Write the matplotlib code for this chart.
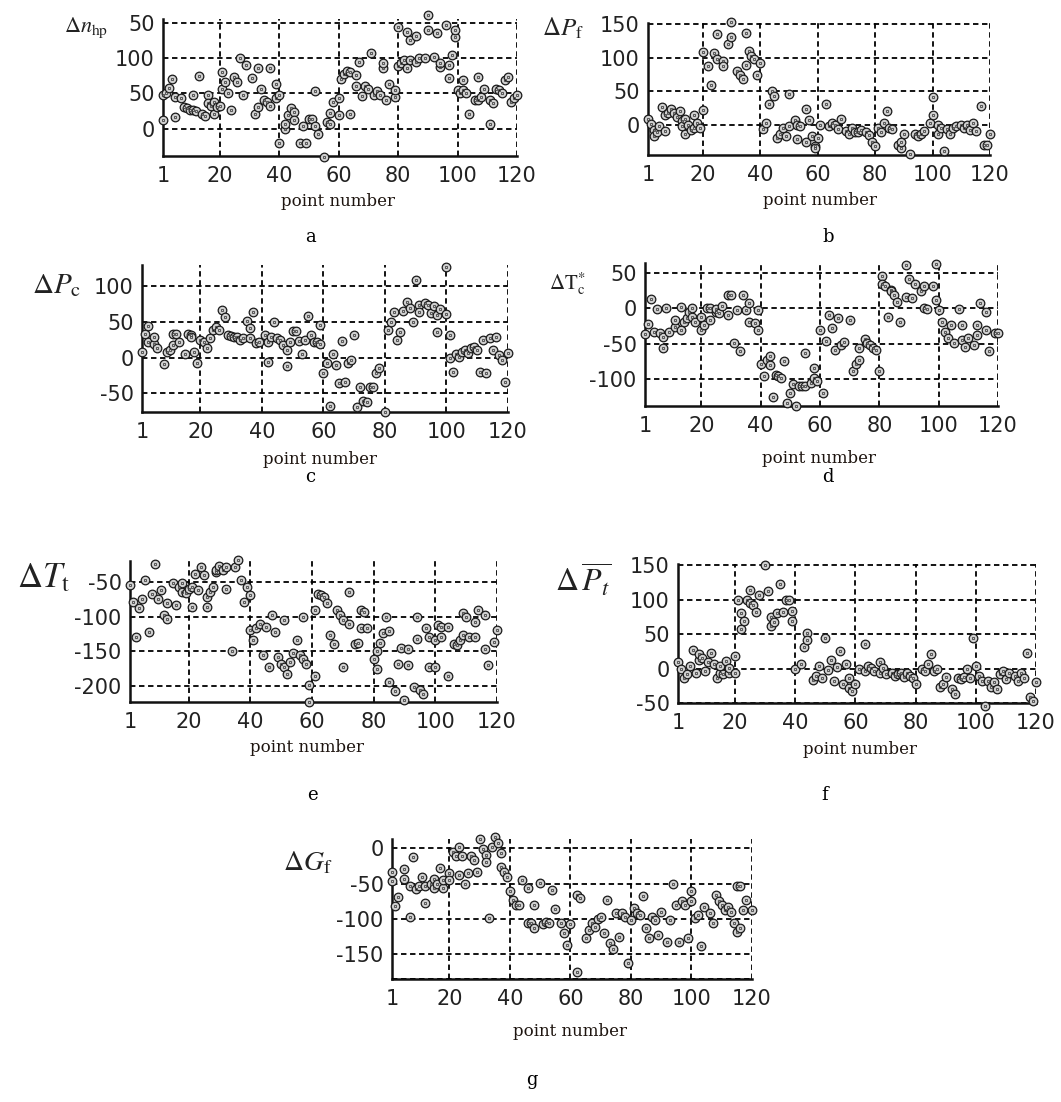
import matplotlib
matplotlib.use('Agg')
import matplotlib.pyplot as plt

W, H = 1061, 1102
plt.rcParams['mathtext.fontset'] = 'stix'
plt.rcParams['font.family'] = ['DejaVu Sans']

# ---------------- data ----------------
a_x = [1,1,2,3,4,5,5,7,8,9,10,11,11,12,13,14,15,16,16,17,18,18,19,20,21,21,22,23,24,25,26,27,28,29,31,32,33,33,34,35,36,37,37,39,39,40,40,42,42,43,44,45,45,47,48,49,50,51,52,52,53,55,56,57,57,58,60,60,61,62,63,64,64,66,66,67,68,69,70,71,72,73,74,75,75,76,77,79,79,80,80,81,82,83,83,84,84,86,86,87,89,90,90,92,93,94,94,96,97,97,98,99,99,100,101,102,102,103,104,106,107,107,108,109,111,111,112,113,114,115,116,117,118,119,120]
a_y = [12,48,50,58,71,16,45,44,31,29,27,26,48,25,75,21,18,48,36,32,21,38,31,32,80,57,67,51,26,74,67,100,48,90,72,21,31,86,56,40,38,32,86,43,64,48,-20,0,7,19,29,24,12,-21,3,-21,13,14,3,54,-7,-40,10,22,7,38,43,19,70,78,82,21,81,60,77,95,46,60,57,108,48,54,48,86,93,41,64,45,55,89,145,93,98,86,138,98,126,95,132,100,100,162,140,102,136,88,93,148,72,90,105,131,140,55,50,69,55,51,21,40,74,40,45,56,40,7,36,56,55,51,69,74,38,43,48]

b_x = [1,2,3,3,4,5,6,7,7,8,9,10,11,12,13,13,14,14,15,16,17,17,18,19,20,20,22,23,24,25,25,27,27,29,30,30,32,33,34,35,35,36,37,38,39,40,41,42,43,44,45,46,47,48,49,50,50,52,53,53,54,56,56,57,58,59,59,60,61,63,64,65,66,67,68,70,71,72,73,74,75,77,78,79,80,81,82,83,84,85,86,88,89,89,90,92,94,95,96,97,99,100,100,102,102,103,104,105,106,107,108,110,111,112,113,114,115,117,118,119,120]
b_y = [9,2,-7,-17,-11,-2,27,-9,14,18,23,18,11,21,6,-1,-14,8,0,-7,14,-4,3,-4,22,108,88,59,107,136,99,95,88,121,154,131,80,75,68,137,90,110,103,98,75,93,-6,3,31,51,43,-19,-14,-4,-16,-1,46,7,-21,0,-1,-26,23,7,-16,-31,-35,-20,0,31,-1,3,0,-6,8,-9,-14,-4,-10,-11,-7,-11,-15,-26,-31,-5,-11,3,20,-5,-6,-30,-34,-26,-14,-44,-14,-16,-14,-9,3,41,14,0,-14,-4,-39,-6,-14,-4,-1,0,-4,0,-7,3,-9,28,-30,-30,-14]

c_x = [1,2,3,3,5,5,6,8,9,10,11,11,12,13,15,16,17,17,18,19,20,21,22,23,24,25,26,27,28,29,30,31,32,33,34,35,36,36,37,38,39,41,42,42,43,44,45,46,47,48,48,49,50,51,52,53,54,55,56,57,58,59,59,60,61,62,63,64,65,66,67,68,69,70,71,72,73,74,75,76,77,78,80,81,82,83,84,85,86,87,88,89,90,91,91,93,94,95,96,97,97,98,100,100,101,101,102,103,104,105,106,107,108,109,110,111,112,113,114,115,116,117,118,119,120]
c_y = [7,33,44,22,19,28,13,-9,7,11,17,33,33,22,5,33,31,28,8,-8,24,22,13,27,39,42,38,66,57,31,30,28,28,25,27,51,27,41,63,20,22,31,21,-6,29,49,27,24,17,10,-12,22,37,37,23,5,24,58,31,21,22,45,19,-22,-7,-68,5,-11,-36,23,-34,-7,-4,31,-69,-41,-60,-62,-41,-41,-21,-15,-76,38,50,63,24,35,65,78,69,49,108,73,63,76,73,62,72,36,59,67,61,126,31,-1,-20,5,1,8,11,6,13,15,10,-20,24,-22,27,10,28,3,-4,-34,6]

d_x = [1,2,3,4,5,6,7,7,8,9,11,11,13,13,14,15,16,17,17,18,20,20,21,22,23,23,25,25,26,27,29,29,30,31,32,33,34,35,36,36,38,39,39,40,41,42,43,43,44,45,46,47,48,49,50,51,52,53,54,55,55,57,58,58,59,60,61,62,63,64,65,66,67,68,70,71,72,73,73,75,76,77,78,79,80,81,81,82,83,84,84,85,86,87,89,89,90,91,92,94,95,95,96,98,99,99,100,101,102,103,104,105,107,108,108,109,110,112,113,113,114,116,116,117,119,120]
d_y = [-37,-22,13,-34,-1,-35,-56,-41,0,-33,-27,-17,2,-30,-20,-14,-5,-12,0,-19,-31,-12,-24,0,-17,0,-5,-1,-7,3,-9,19,19,-49,-2,-61,19,-2,7,-19,-21,-2,-31,-78,-96,-73,-80,-67,-125,-94,-96,-99,-75,-134,-120,-107,-138,-110,-110,-110,-63,-106,-85,-99,-103,-31,-120,-46,-9,-28,-59,-14,-52,-47,-16,-89,-78,-73,-56,-44,-49,-52,-56,-59,-88,45,35,31,-12,26,24,19,9,-19,16,61,42,14,35,24,31,0,-1,31,12,63,-2,-19,-33,-42,-24,-49,-1,-45,-24,-54,-42,-52,-38,-24,8,-31,-5,-61,-35,-35]

e_x = [1,2,3,4,5,6,7,8,9,10,11,12,13,13,15,16,17,18,18,19,20,21,21,22,23,24,25,26,26,27,28,29,29,30,31,32,32,34,35,36,37,38,39,40,40,41,42,43,44,45,46,47,48,49,50,51,51,52,53,54,55,56,57,57,58,59,59,61,61,62,63,64,65,66,67,68,69,70,70,72,72,74,75,76,76,77,78,80,81,81,82,83,84,85,85,87,88,89,90,91,91,93,94,94,95,96,97,98,98,100,100,101,102,102,104,104,106,107,108,109,109,110,111,113,113,114,116,116,117,119,120]
e_y = [-55,-79,-129,-88,-75,-48,-122,-67,-25,-75,-62,-98,-103,-80,-51,-84,-57,-64,-52,-66,-60,-86,-57,-38,-62,-29,-40,-86,-72,-64,-57,-36,-33,-27,-33,-60,-28,-149,-29,-18,-47,-79,-57,-69,-120,-134,-116,-110,-156,-115,-173,-98,-122,-158,-168,-105,-173,-182,-165,-153,-134,-156,-161,-100,-168,-199,-223,-91,-186,-67,-69,-72,-81,-127,-140,-91,-98,-105,-173,-110,-64,-139,-138,-91,-117,-93,-116,-161,-149,-175,-138,-124,-101,-121,-194,-207,-168,-145,-220,-170,-146,-201,-100,-133,-206,-211,-116,-130,-172,-172,-134,-112,-115,-130,-185,-115,-139,-141,-134,-95,-127,-100,-129,-129,-108,-91,-146,-98,-170,-137,-120]

f_x = [1,2,3,4,5,6,7,8,8,9,10,11,12,13,14,15,15,16,17,18,18,20,20,21,22,22,23,24,25,25,26,27,28,30,31,32,32,33,34,35,36,37,38,39,39,40,42,43,44,44,46,47,48,49,50,51,52,53,54,55,56,57,58,58,59,60,61,63,63,64,65,66,68,68,69,70,72,73,74,75,76,77,78,79,80,82,83,84,85,86,87,88,89,90,92,93,94,95,96,97,98,99,100,101,102,103,104,105,106,107,108,109,110,111,113,114,115,116,117,118,119,120]
f_y = [9,-1,-13,-8,4,27,-7,13,21,16,-3,9,23,6,-13,-6,4,-8,11,-7,1,-6,19,100,57,81,69,100,114,95,92,82,107,150,113,75,62,68,81,123,82,100,100,83,69,-1,6,31,52,42,-17,-11,4,-13,45,-2,12,-18,2,26,-23,6,-14,-28,-32,-23,-1,-4,36,4,1,-3,-7,9,1,-8,-6,-11,-8,-6,-12,-6,-11,-13,-23,-1,-3,7,21,-3,-1,-27,-23,-12,-30,-37,-13,-15,-12,-1,-13,45,4,-11,-18,-54,-18,-27,-20,-30,-8,-3,-15,-7,-11,-18,-6,-14,23,-42,-47,-20]

g_x = [1,1,2,3,5,5,7,7,8,9,10,11,12,12,14,15,15,16,17,18,18,20,20,21,22,23,23,24,25,26,27,28,29,30,31,32,32,33,34,35,36,37,37,38,39,40,41,42,43,44,46,46,47,48,48,50,51,52,53,54,55,57,58,59,60,62,62,63,65,66,67,68,69,70,71,72,73,74,75,76,77,78,79,80,81,82,83,84,85,86,87,88,89,90,92,93,94,95,96,97,98,99,100,100,101,102,103,104,106,107,108,109,110,111,112,113,115,116,114,115,116,117,118,120]
g_y = [-33,-47,-82,-69,-44,-30,-97,-54,-13,-58,-53,-41,-53,-78,-50,-44,-57,-50,-28,-57,-45,-35,-45,-5,-11,-38,2,-11,-50,-35,-11,-17,-33,13,-1,-9,-19,-99,2,16,7,-7,-26,-34,-41,-61,-73,-80,-80,-45,-106,-57,-106,-80,-113,-49,-107,-104,-106,-59,-86,-106,-120,-137,-107,-66,-175,-71,-127,-116,-106,-111,-100,-97,-120,-73,-134,-142,-92,-125,-92,-97,-163,-101,-85,-92,-94,-67,-113,-127,-97,-101,-123,-90,-132,-101,-50,-80,-132,-75,-80,-127,-75,-61,-99,-94,-138,-83,-92,-106,-66,-75,-80,-87,-83,-90,-54,-54,-106,-118,-113,-87,-73,-87]

x_ticks = [1, 20, 40, 60, 80, 100, 120]
x_tick_labels = ['1', '20', '40', '60', '80', '100', '120']
a_yticks, a_ylabels = [0, 50, 100, 150], ['0', '50', '100', '50']
b_yticks, b_ylabels = [0, 50, 100, 150], ['0', '50', '100', '150']
c_yticks, c_ylabels = [-50, 0, 50, 100], ['-50', '0', '50', '100']
d_yticks, d_ylabels = [-100, -50, 0, 50], ['-100', '-50', '0', '50']
e_yticks, e_ylabels = [-200, -150, -100, -50], ['-200', '-150', '-100', '-50']
f_yticks, f_ylabels = [-50, 0, 50, 100, 150], ['-50', '0', '50', '100', '150']
g_yticks, g_ylabels = [-150, -100, -50, 0], ['-150', '-100', '-50', '0']

x_label = 'point number'
letters = ['a', 'b', 'c', 'd', 'e', 'f', 'g']
y_names = [r'$\Delta n_{\mathrm{hp}}$', r'$\Delta P_{\mathrm{f}}$', r'$\Delta P_{\mathrm{c}}$',
           r'$\Delta \mathrm{T}^{*}_{\mathrm{c}}$', r'$\Delta T_{\mathrm{t}}$',
           r'$\Delta\,\overline{P_t}$', r'$\Delta G_{\mathrm{f}}$']

# ---------------- layout (pixels) ----------------
panels = [
    # box (xl, yt, xr, yb), ylim, ylabel (x, y, size), xlabel (x, y), letter (x, y)
    dict(x=a_x, y=a_y, yt=a_yticks, yl=a_ylabels, box=(163, 19, 517, 156), ylim=(-39, 156),
         yname=(86, 28, 16), xlab=(338, 202), let=(311, 237)),
    dict(x=b_x, y=b_y, yt=b_yticks, yl=b_ylabels, box=(648, 23, 990, 155), ylim=(-45, 152),
         yname=(563, 28, 18), xlab=(820, 200), let=(828, 237)),
    dict(x=c_x, y=c_y, yt=c_yticks, yl=c_ylabels, box=(142, 265, 508, 412), ylim=(-76, 129),
         yname=(57, 285, 21), xlab=(320, 459), let=(310, 477)),
    dict(x=d_x, y=d_y, yt=d_yticks, yl=d_ylabels, box=(645, 263, 998, 406), ylim=(-138, 64),
         yname=(567, 284, 15), xlab=(819, 458), let=(828, 477)),
    dict(x=e_x, y=e_y, yt=e_yticks, yl=e_ylabels, box=(130, 561, 497, 702), ylim=(-223, -20),
         yname=(44, 577, 25), xlab=(307, 747), let=(312, 795)),
    dict(x=f_x, y=f_y, yt=f_yticks, yl=f_ylabels, box=(678, 564, 1036, 703), ylim=(-50, 152),
         yname=(583, 580, 23), xlab=(860, 749), let=(825, 795)),
    dict(x=g_x, y=g_y, yt=g_yticks, yl=g_ylabels, box=(392, 839, 752, 979), ylim=(-185, 13),
         yname=(308, 862, 20), xlab=(570, 1032), let=(532, 1080)),
]

fig = plt.figure(figsize=(W / 100, H / 100), dpi=100)
fig.patch.set_facecolor('white')

grid_style = (0, (3.0, 2.0))
for i, p in enumerate(panels):
    xl, yt, xr, yb = p['box']
    ax = fig.add_axes([xl / W, 1 - yb / H, (xr - xl) / W, (yb - yt) / H])
    ax.set_xlim(1, 120)
    ax.set_ylim(*p['ylim'])
    ax.set_xticks(x_ticks)
    ax.set_xticklabels(x_tick_labels)
    ax.set_yticks(p['yt'])
    ax.set_yticklabels(p['yl'])
    ax.set_axisbelow(True)
    ax.grid(True, color='black', linestyle=grid_style, linewidth=1.3)
    for s in ('top', 'right'):
        ax.spines[s].set_visible(False)
    for s in ('left', 'bottom'):
        ax.spines[s].set_linewidth(1.8)
        ax.spines[s].set_color('#111111')
    ax.tick_params(length=0, labelsize=15, labelcolor='#222222')
    ax.tick_params(axis='x', pad=7)
    ax.tick_params(axis='y', pad=6)
    if i == 6:
        ax.axhline(p['ylim'][0], color='black', linestyle=grid_style, linewidth=1.3, zorder=2.6)
    ax.plot(p['x'], p['y'], linestyle='none', marker='o', ms=6.2, mfc='#cfcfcf',
            mec='#1a1a1a', mew=0.9, clip_on=False, zorder=3)
    ax.plot(p['x'], p['y'], linestyle='none', marker='s', ms=1.8, mfc='none',
            mec='#444444', mew=0.6, clip_on=False, zorder=4)
    nx, ny, ns = p['yname']
    fig.text(nx / W, 1 - ny / H, y_names[i], fontsize=ns, ha='center', va='center', color='#222222')
    lx, ly = p['xlab']
    fig.text(lx / W, 1 - ly / H, x_label, fontsize=12, family='DejaVu Serif',
             ha='center', va='center', color='#1e1510')
    tx, ty = p['let']
    fig.text(tx / W, 1 - ty / H, letters[i], fontsize=13, family='DejaVu Serif',
             ha='center', va='center', color='black')

fig.savefig('out.png', dpi=100, facecolor='white')
